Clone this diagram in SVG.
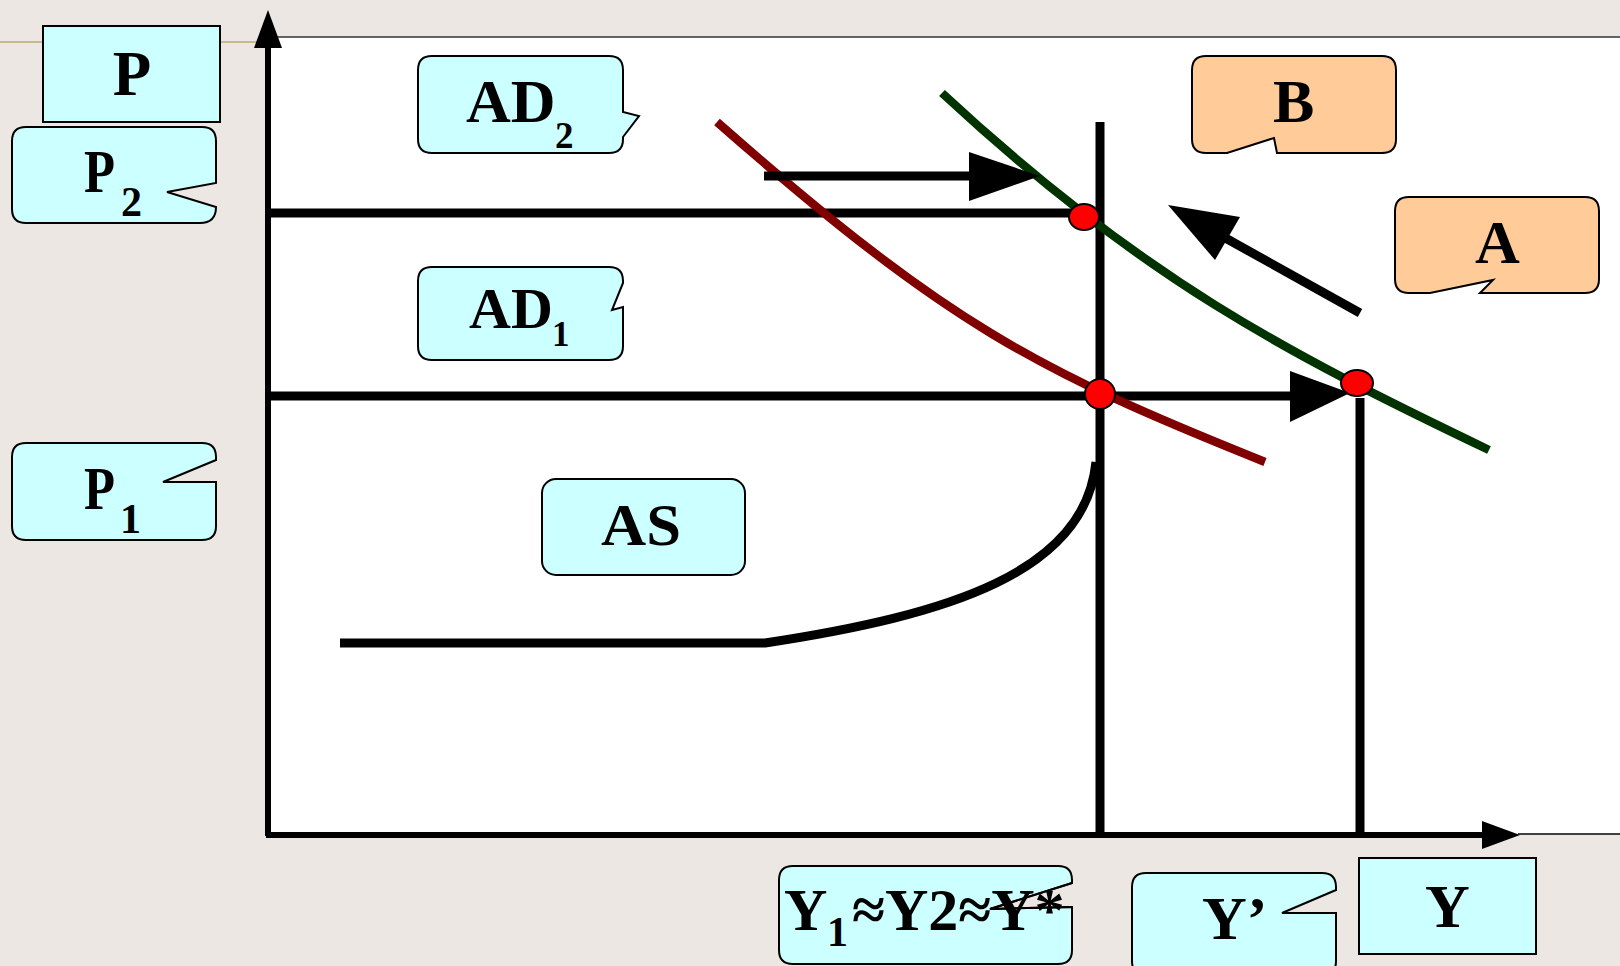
<svg xmlns="http://www.w3.org/2000/svg" width="1620" height="966" viewBox="0 0 1620 966">
<style>
.cyan{fill:#CCFFFF;stroke:#000;stroke-width:2}
.orange{fill:#FFCC99;stroke:#000;stroke-width:2}
.t{font-family:"Liberation Serif","Times New Roman",serif;font-weight:bold;fill:#000}
.ln{stroke:#000;stroke-width:9;fill:none}
.dot{fill:#FF0000;stroke:#000;stroke-width:2}
</style>
<rect x="0" y="0" width="1620" height="966" fill="#ECE7E3"/>
<line x1="0" y1="42" x2="268" y2="42" stroke="#C8B98A" stroke-width="2"/>
<rect x="268" y="37" width="1352" height="798" fill="#FFFFFF"/>
<line x1="268" y1="37" x2="1620" y2="37" stroke="#333" stroke-width="1.5"/>

<g id="connectors">
  <!-- axes -->
  <line x1="268" y1="836" x2="268" y2="44" stroke="#000" stroke-width="6"/>
  <polygon points="268,10 254,48 282,48" fill="#000"/>
  <line x1="266" y1="835" x2="1485" y2="835" stroke="#000" stroke-width="6"/>
  <polygon points="1482,821 1520,835 1482,849" fill="#000"/>
  <line x1="1518" y1="834" x2="1620" y2="834" stroke="#000" stroke-width="1.5"/>
  <!-- guide lines -->
  <line class="ln" x1="268" y1="213" x2="1078" y2="213"/>
  <line class="ln" x1="268" y1="396" x2="1295" y2="396"/>
  <polygon points="1290,371 1350,393 1290,422" fill="#000"/>
  <line class="ln" x1="1100" y1="122" x2="1100" y2="835"/>
  <line class="ln" x1="1360" y1="398" x2="1360" y2="837"/>
  <!-- AS curve -->
  <path class="ln" d="M340,643 L765,643 C950,615 1085,572 1096,462"/>
  <!-- AD curves -->
  <path d="M717,122 C947,324 1035,370 1265,462" fill="none" stroke="#800000" stroke-width="8.5"/>
  <path d="M942,93 C1142,279 1289,354 1489,450" fill="none" stroke="#003300" stroke-width="8.5"/>
  <!-- shift arrows -->
  <line class="ln" x1="764" y1="176" x2="975" y2="176" stroke-width="10"/>
  <polygon points="969,152 1040,176 969,201" fill="#000"/>
  <line class="ln" x1="1360" y1="313" x2="1220" y2="235" stroke-width="9"/>
  <polygon points="1168,205 1240,217 1215,260" fill="#000"/>
  <!-- equilibrium points -->
  <ellipse class="dot" cx="1084" cy="217" rx="15" ry="13"/>
  <ellipse class="dot" cx="1100" cy="394" rx="15" ry="15"/>
  <ellipse class="dot" cx="1357" cy="383" rx="16" ry="13"/>
</g>

<g id="node-P">
  <rect class="cyan" x="43" y="26" width="177" height="96"/>
  <text class="t" x="132" y="95" font-size="63" text-anchor="middle">P</text>
</g>
<g id="node-P2">
  <path class="cyan" d="M26,127 H202 Q216,127 216,141 V183 L167,192 L216,207 Q216,223 200,223 H26 Q12,223 12,209 V141 Q12,127 26,127 Z"/>
  <text class="t" x="84" y="192" font-size="61" textLength="31" lengthAdjust="spacingAndGlyphs">P</text>
  <text class="t" x="121" y="216" font-size="42">2</text>
</g>
<g id="node-AD2">
  <path class="cyan" d="M432,56 H609 Q623,56 623,70 V112 L639,116 L623,137 V139 Q623,153 609,153 H432 Q418,153 418,139 V70 Q418,56 432,56 Z"/>
  <text class="t" x="466" y="122" font-size="62">AD</text>
  <text class="t" x="555" y="148" font-size="37">2</text>
</g>
<g id="node-AD1">
  <path class="cyan" d="M432,267 H609 Q623,267 623,281 V283 L612,310 L623,307 V346 Q623,360 609,360 H432 Q418,360 418,346 V281 Q418,267 432,267 Z"/>
  <text class="t" x="469" y="328" font-size="58">AD</text>
  <text class="t" x="552" y="346" font-size="35">1</text>
</g>
<g id="node-P1">
  <path class="cyan" d="M26,443 H202 Q216,443 216,457 V460 L163,482 H216 V526 Q216,540 202,540 H26 Q12,540 12,526 V457 Q12,443 26,443 Z"/>
  <text class="t" x="84" y="509" font-size="62" textLength="31" lengthAdjust="spacingAndGlyphs">P</text>
  <text class="t" x="120" y="533" font-size="42">1</text>
</g>
<g id="node-AS">
  <rect class="cyan" x="542" y="479" width="203" height="96" rx="14"/>
  <text class="t" x="601" y="545" font-size="59" textLength="80" lengthAdjust="spacingAndGlyphs">AS</text>
</g>
<g id="node-B">
  <path class="orange" d="M1206,56 H1382 Q1396,56 1396,70 V139 Q1396,153 1382,153 H1277 L1274,138 L1227,153 H1206 Q1192,153 1192,139 V70 Q1192,56 1206,56 Z"/>
  <text class="t" x="1273" y="122" font-size="62">B</text>
</g>
<g id="node-A">
  <path class="orange" d="M1409,197 H1585 Q1599,197 1599,211 V279 Q1599,293 1585,293 H1480 L1493,280 L1430,293 H1409 Q1395,293 1395,279 V211 Q1395,197 1409,197 Z"/>
  <text class="t" x="1475" y="263" font-size="62">A</text>
</g>
<g id="node-Y1">
  <path class="cyan" d="M793,866 H1058 Q1072,866 1072,880 V883 L990,909 L1072,907 V950 Q1072,964 1058,964 H793 Q779,964 779,950 V880 Q779,866 793,866 Z"/>
  <text class="t" x="784" y="930" font-size="60">Y</text>
  <text class="t" x="827" y="946" font-size="42">1</text>
  <text class="t" x="852" y="930" font-size="60">≈Y2≈Y*</text>
  <path d="M1072,883 L990,909 L1072,907" fill="none" stroke="#000" stroke-width="2"/>
</g>
<g id="node-Yprime">
  <path class="cyan" d="M1146,873 H1322 Q1336,873 1336,887 V890 L1282,913 H1336 V961 Q1336,975 1322,975 H1146 Q1132,975 1132,961 V887 Q1132,873 1146,873 Z"/>
  <text class="t" x="1202" y="939" font-size="62">Y’</text>
</g>
<g id="node-Y">
  <rect class="cyan" x="1359" y="858" width="177" height="96"/>
  <text class="t" x="1425" y="927" font-size="62">Y</text>
</g>
</svg>
